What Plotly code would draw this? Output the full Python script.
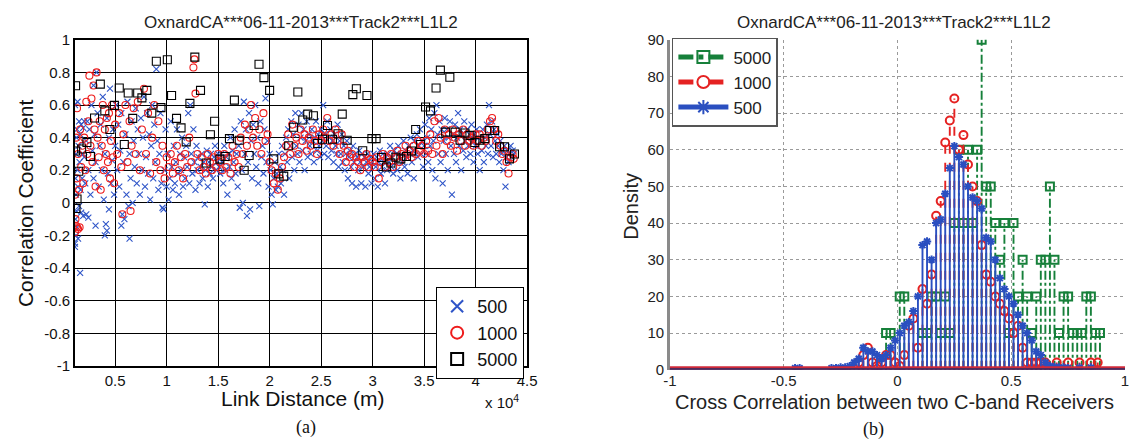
import plotly.graph_objects as go

# ================= Panel (a): scatter =================
# (link distance in units of 1e4 m, correlation coefficient)
pts_500 = [
    (0.11,-0.27),(0.11,-0.25),(0.11,0.6),(0.115,-0.1),(0.115,0.15),(0.12,0.3),(0.12,-0.2),(0.12,0.05),
    (0.125,0.4),(0.125,-0.05),(0.13,0.45),(0.13,-0.15),(0.135,0.2),(0.135,0.62),(0.14,0.1),(0.14,-0.22),
    (0.145,0.35),(0.15,0.5),(0.15,-0.02),(0.155,0.25),(0.16,-0.43),(0.16,0.42),(0.165,0.08),(0.17,0.48),
    (0.17,-0.06),(0.18,0.3),(0.18,0.15),(0.19,0.46),(0.19,-0.08),(0.2,0.28),(0.2,0.5),
    (0.21,0.12),(0.22,0.38),(0.22,-0.07),(0.23,0.5),(0.24,0.2),(0.24,-0.09),(0.25,0.45),(0.26,0.05),
    (0.27,0.6),(0.28,0.32),(0.29,0.72),(0.29,0.15),(0.3,0.42),(0.31,0.25),(0.31,-0.14),(0.32,0.8),
    (0.33,0.55),(0.34,0.1),(0.35,0.35),(0.36,0.48),(0.37,0.2),(0.38,0.65),(0.39,0.02),(0.4,0.3),
    (0.4,-0.2),(0.41,-0.13),(0.42,0.52),(0.42,-0.17),(0.43,0.18),(0.44,-0.04),(0.44,0.4),(0.45,0.7),
    (0.46,0.12),(0.47,0.26),(0.48,0.45),(0.49,0.05),(0.5,0.35),
    (0.51,0.6),(0.52,0.2),(0.53,0.48),(0.54,0.1),(0.55,0.32),(0.56,-0.14),(0.56,0.55),(0.57,-0.07),
    (0.58,0.25),(0.59,-0.1),(0.6,0.42),(0.61,0.05),(0.62,0.62),(0.63,-0.02),(0.64,-0.22),(0.64,0.3),
    (0.65,0.15),(0.66,0.5),(0.67,0.0),(0.68,0.38),(0.69,0.22),(0.7,0.58),(0.71,0.12),(0.72,0.45),
    (0.73,0.3),(0.74,0.05),(0.75,0.52),(0.76,0.2),(0.77,0.4),(0.78,0.65),(0.79,0.1),(0.8,0.28),
    (0.81,0.55),(0.82,0.18),(0.83,0.42),(0.84,0.02),(0.85,0.35),(0.86,0.6),(0.87,0.15),(0.88,0.48),
    (0.89,0.25),(0.9,0.82),(0.91,0.38),(0.92,0.08),(0.93,0.3),(0.94,0.55),(0.95,0.12),(0.96,-0.03),
    (0.97,-0.04),(0.98,0.2),(0.99,0.45),
    (1.0,0.1),(1.01,0.3),(1.02,0.02),(1.03,0.15),(1.04,0.5),(1.05,0.22),(1.06,0.08),(1.07,0.35),
    (1.08,0.12),(1.09,0.25),(1.1,0.45),(1.11,0.18),(1.12,0.05),(1.13,0.3),(1.14,0.2),(1.15,0.4),
    (1.16,0.1),(1.17,0.28),(1.18,0.15),(1.19,0.35),(1.2,0.22),(1.21,0.55),(1.22,0.12),(1.23,0.6),
    (1.24,0.3),(1.25,0.18),(1.26,0.45),(1.27,0.25),(1.28,0.08),(1.29,0.35),(1.3,0.2),(1.31,0.28),
    (1.32,0.12),(1.33,0.22),(1.34,0.3),(1.35,0.15),(1.36,0.25),(1.37,-0.01),(1.38,0.2),(1.39,0.32),
    (1.4,0.1),(1.41,0.25),(1.42,0.18),(1.43,0.3),(1.44,0.22),(1.45,0.15),(1.46,0.28),(1.47,0.35),
    (1.48,0.2),(1.49,0.25),(1.5,0.3),
    (1.51,0.22),(1.52,0.18),(1.53,0.3),(1.54,0.25),(1.55,0.12),(1.56,0.35),(1.57,0.2),(1.58,0.28),
    (1.59,0.05),(1.6,0.3),(1.61,0.22),(1.62,0.4),(1.63,0.15),(1.64,0.32),(1.65,0.25),(1.66,0.45),
    (1.67,0.18),(1.68,0.3),(1.69,0.1),(1.7,0.35),(1.71,-0.03),(1.72,0.5),(1.73,0.2),(1.74,0.0),
    (1.75,0.62),(1.76,0.3),(1.77,0.45),(1.78,-0.08),(1.79,0.25),(1.8,0.55),(1.81,-0.04),(1.82,0.38),
    (1.83,0.15),(1.84,0.48),(1.85,0.3),(1.86,0.6),(1.87,0.22),(1.88,0.4),(1.89,0.12),(1.9,-0.02),
    (1.91,0.5),(1.92,0.28),(1.93,0.35),(1.94,0.18),(1.95,0.45),(1.96,0.64),(1.97,0.25),(1.98,0.38),
    (1.99,0.1),(2.0,0.3),
    (2.01,0.2),(2.02,0.05),(2.03,-0.01),(2.04,0.15),(2.05,0.25),(2.06,0.08),(2.07,0.18),(2.08,0.1),
    (2.09,0.3),(2.1,0.22),(2.11,0.12),(2.12,0.35),(2.13,0.2),(2.14,0.05),(2.15,0.3),(2.16,0.4),
    (2.17,0.25),(2.18,0.45),(2.19,0.15),(2.2,0.35),(2.21,0.5),(2.22,0.28),(2.23,0.42),(2.24,0.2),
    (2.25,0.55),(2.26,0.35),(2.27,0.3),(2.28,0.48),(2.29,0.25),(2.3,0.4),(2.31,0.55),(2.32,0.32),
    (2.33,0.45),(2.34,0.2),(2.35,0.38),(2.36,0.5),(2.37,0.28),(2.38,0.42),(2.39,0.35),(2.4,0.3),
    (2.41,0.45),(2.42,0.38),(2.43,0.25),(2.44,0.4),(2.45,0.5),(2.46,0.32),(2.47,0.42),(2.48,0.35),
    (2.49,0.28),(2.5,0.45),
    (2.51,0.38),(2.52,0.6),(2.53,0.3),(2.54,0.42),(2.55,0.35),(2.56,0.5),(2.57,0.28),(2.58,0.4),
    (2.59,0.45),(2.6,0.32),(2.61,0.38),(2.62,0.25),(2.63,0.42),(2.64,0.35),(2.65,0.3),(2.66,0.48),
    (2.67,0.22),(2.68,0.38),(2.69,0.3),(2.7,0.42),(2.71,0.25),(2.72,0.35),(2.73,0.2),(2.74,0.3),
    (2.75,0.38),(2.76,0.15),(2.77,0.28),(2.78,0.32),(2.79,0.22),(2.8,0.12),(2.81,0.35),(2.82,0.25),
    (2.83,0.3),(2.84,0.1),(2.85,0.28),(2.86,0.2),(2.87,0.32),(2.88,0.25),(2.89,0.12),(2.9,0.3),
    (2.91,0.22),(2.92,0.28),(2.93,0.1),(2.94,0.25),(2.95,0.3),(2.96,0.18),(2.97,0.22),(2.98,0.28),
    (2.99,0.12),(3.0,0.25),
    (3.01,0.3),(3.02,0.15),(3.03,0.22),(3.04,0.28),(3.05,0.1),(3.06,0.25),(3.07,0.32),(3.08,0.18),
    (3.09,0.22),(3.1,0.3),(3.11,0.25),(3.12,0.12),(3.13,0.28),(3.14,0.2),(3.15,0.3),(3.16,0.25),
    (3.17,0.35),(3.18,0.22),(3.19,0.28),(3.2,0.18),(3.21,0.32),(3.22,0.25),(3.23,0.3),(3.24,0.2),
    (3.25,0.35),(3.26,0.28),(3.27,0.15),(3.28,0.3),(3.29,0.25),(3.3,0.38),(3.31,0.22),(3.32,0.32),
    (3.33,0.28),(3.34,0.18),(3.35,0.35),(3.36,0.3),(3.37,0.4),(3.38,0.25),(3.39,0.32),(3.4,0.15),
    (3.41,0.38),(3.42,0.3),(3.43,0.42),(3.44,0.28),(3.45,0.35),(3.46,0.45),(3.47,0.3),(3.48,0.38),
    (3.49,0.22),(3.5,0.35),
    (3.51,0.48),(3.52,0.3),(3.53,0.4),(3.54,0.25),(3.55,0.52),(3.56,0.35),(3.57,0.45),(3.58,0.2),
    (3.59,0.38),(3.6,0.55),(3.61,0.15),(3.62,0.6),(3.63,0.42),(3.64,0.3),(3.65,0.5),(3.66,0.25),
    (3.67,0.45),(3.68,0.12),(3.69,0.38),(3.7,0.52),(3.71,0.3),(3.72,0.45),(3.73,0.2),(3.74,0.4),
    (3.75,0.5),(3.76,0.35),(3.77,0.05),(3.78,0.42),(3.79,0.3),(3.8,0.48),(3.81,0.25),(3.82,0.4),
    (3.83,0.55),(3.84,0.35),(3.85,0.45),(3.86,0.2),(3.87,0.42),(3.88,0.32),(3.89,0.5),(3.9,0.38),
    (3.91,0.28),(3.92,0.45),(3.93,0.35),(3.94,0.42),(3.95,0.3),(3.96,0.48),(3.97,0.38),(3.98,0.25),
    (3.99,0.42),(4.0,0.35),
    (4.01,0.45),(4.02,0.3),(4.03,0.4),(4.04,0.2),(4.05,0.38),(4.06,0.32),(4.07,0.45),(4.08,0.25),
    (4.09,0.4),(4.1,0.35),(4.11,0.48),(4.12,0.3),(4.13,0.6),(4.14,0.42),(4.15,0.35),(4.16,0.5),
    (4.17,0.28),(4.18,0.45),(4.19,0.38),(4.2,0.3),(4.21,0.42),(4.22,0.35),(4.23,0.25),(4.24,0.38),
    (4.25,0.3),(4.26,0.32),(4.27,0.2),(4.28,0.35),(4.29,0.1),(4.3,0.28),(4.31,0.32),(4.32,0.25),
    (4.33,0.3),(4.34,0.35),(4.35,0.28),(4.36,0.32),(4.37,0.3),
]

pts_1000 = [
    (0.11,-0.18),(0.11,0.05),(0.115,-0.1),(0.12,0.4),(0.12,-0.14),(0.125,0.15),(0.13,0.58),(0.13,-0.15),
    (0.14,0.3),(0.14,-0.16),(0.15,0.08),(0.155,-0.15),(0.16,0.45),(0.17,0.22),(0.18,0.35),(0.19,0.12),
    (0.2,0.4),(0.21,0.2),(0.22,0.62),(0.23,0.3),(0.24,0.5),(0.25,0.78),(0.26,0.35),(0.27,0.64),
    (0.28,0.25),(0.29,0.72),(0.3,0.45),(0.31,0.1),(0.32,0.8),(0.33,0.4),(0.34,0.28),(0.35,0.5),
    (0.36,0.08),(0.37,0.35),(0.38,0.6),(0.39,0.2),(0.4,0.45),(0.41,0.3),(0.42,0.52),(0.43,0.25),
    (0.44,0.55),(0.45,0.15),(0.46,0.38),(0.47,0.6),(0.48,0.28),(0.49,0.12),(0.5,0.48),
    (0.52,0.3),(0.54,0.55),(0.56,0.22),(0.57,-0.07),(0.58,0.42),(0.6,0.6),(0.62,0.25),(0.64,0.5),
    (0.65,-0.05),(0.66,0.35),(0.68,0.58),(0.7,0.3),(0.72,0.62),(0.74,0.2),(0.76,0.45),(0.78,0.7),
    (0.8,0.3),(0.82,0.55),(0.84,0.18),(0.86,0.4),(0.88,0.6),(0.9,0.25),(0.92,0.5),(0.94,0.2),
    (0.96,0.35),(0.98,0.15),(1.0,0.28),
    (1.02,0.22),(1.04,0.3),(1.06,0.18),(1.08,0.25),(1.1,0.35),(1.12,0.2),(1.14,0.28),(1.16,0.15),
    (1.18,0.3),(1.2,0.22),(1.22,0.4),(1.24,0.25),(1.26,0.83),(1.27,0.88),(1.28,0.67),(1.3,0.3),
    (1.32,0.2),(1.34,0.28),(1.36,0.22),(1.38,0.18),(1.4,0.3),(1.42,0.25),(1.44,0.2),(1.46,0.28),
    (1.48,0.22),(1.5,0.3),
    (1.52,0.25),(1.54,0.2),(1.56,0.3),(1.58,0.22),(1.6,0.28),(1.62,0.18),(1.64,0.35),(1.66,0.25),
    (1.68,0.3),(1.7,0.22),(1.72,0.4),(1.74,0.3),(1.76,0.48),(1.78,0.35),(1.8,0.45),(1.82,0.6),
    (1.84,0.4),(1.86,0.52),(1.88,0.35),(1.9,0.45),(1.92,0.3),(1.94,0.55),(1.96,0.38),(1.98,0.42),
    (2.0,0.25),
    (2.02,0.2),(2.04,0.12),(2.06,0.18),(2.08,0.08),(2.1,0.15),(2.12,0.22),(2.14,0.28),(2.16,0.35),
    (2.18,0.42),(2.2,0.3),(2.22,0.48),(2.24,0.35),(2.26,0.4),(2.28,0.3),(2.3,0.45),(2.32,0.38),
    (2.34,0.42),(2.36,0.32),(2.38,0.4),(2.4,0.35),(2.42,0.45),(2.44,0.38),(2.46,0.3),(2.48,0.42),
    (2.5,0.38),
    (2.52,0.45),(2.54,0.4),(2.56,0.52),(2.58,0.38),(2.6,0.42),(2.62,0.35),(2.64,0.45),(2.66,0.38),
    (2.68,0.3),(2.7,0.42),(2.72,0.35),(2.74,0.25),(2.76,0.32),(2.78,0.28),(2.8,0.3),(2.82,0.22),
    (2.84,0.28),(2.86,0.25),(2.88,0.2),(2.9,0.28),(2.92,0.25),(2.94,0.3),(2.96,0.22),(2.98,0.27),
    (3.0,0.25),
    (3.02,0.22),(3.04,0.28),(3.06,0.15),(3.08,0.25),(3.1,0.3),(3.12,0.22),(3.14,0.28),(3.16,0.25),
    (3.18,0.3),(3.2,0.22),(3.22,0.28),(3.24,0.32),(3.26,0.25),(3.28,0.3),(3.3,0.28),(3.32,0.35),
    (3.34,0.3),(3.36,0.32),(3.38,0.28),(3.4,0.35),(3.42,0.3),(3.44,0.38),(3.46,0.32),(3.48,0.35),
    (3.5,0.3),
    (3.52,0.38),(3.54,0.32),(3.56,0.42),(3.58,0.3),(3.6,0.5),(3.62,0.35),(3.64,0.52),(3.66,0.4),
    (3.68,0.3),(3.7,0.45),(3.72,0.38),(3.74,0.42),(3.76,0.35),(3.78,0.45),(3.8,0.4),(3.82,0.32),
    (3.84,0.42),(3.86,0.38),(3.88,0.45),(3.9,0.35),(3.92,0.42),(3.94,0.38),(3.96,0.4),(3.98,0.35),
    (4.0,0.42),
    (4.02,0.38),(4.04,0.42),(4.06,0.35),(4.08,0.4),(4.1,0.38),(4.12,0.45),(4.14,0.5),(4.16,0.52),
    (4.18,0.45),(4.2,0.38),(4.22,0.42),(4.24,0.35),(4.26,0.3),(4.28,0.32),(4.3,0.25),(4.32,0.18),
    (4.34,0.28),(4.36,0.3),(4.37,0.27),
]

pts_5000 = [
    (0.116,0.718),(0.116,0.318),(0.147,0.194),(0.13,0.024),(0.12,-0.035),(0.175,0.33),(0.226,0.37),
    (0.26,0.284),(0.30,0.52),(0.356,0.728),(0.40,0.564),(0.449,0.45),(0.493,0.598),(0.54,0.704),
    (0.589,0.358),(0.627,0.674),(0.671,0.518),(0.719,0.674),(0.76,0.644),(0.808,0.69),(0.856,0.55),
    (0.90,0.868),(0.945,0.584),(1.007,0.878),(1.048,0.658),(1.096,0.518),(1.14,0.46),(1.19,0.374),
    (1.226,0.61),(1.274,0.894),(1.329,0.69),(1.384,0.244),(1.425,0.418),(1.466,0.50),(1.517,0.268),
    (1.568,0.284),(1.61,0.394),(1.658,0.63),(1.705,0.384),(1.753,0.20),(1.801,0.29),(1.849,0.474),
    (1.897,0.85),(1.945,0.768),(2.0,0.69),(2.04,0.27),(2.089,0.178),(2.137,0.164),(2.185,0.35),
    (2.233,0.464),(2.274,0.68),(2.322,0.508),(2.37,0.544),(2.425,0.534),(2.466,0.364),(2.514,0.39),
    (2.562,0.474),(2.61,0.39),(2.664,0.424),(2.705,0.544),(2.753,0.384),(2.808,0.664),(2.842,0.70),
    (2.904,0.32),(2.945,0.658),(2.993,0.394),(3.034,0.394),(3.086,0.278),(3.134,0.22),(3.178,0.244),
    (3.226,0.28),(3.274,0.27),(3.329,0.284),(3.377,0.318),(3.418,0.45),(3.466,0.358),(3.514,0.588),
    (3.562,0.564),(3.616,0.704),(3.658,0.814),(3.709,0.434),(3.75,0.77),(3.801,0.434),(3.849,0.384),
    (3.897,0.428),(3.945,0.414),(3.993,0.37),(4.041,0.384),(4.089,0.394),(4.137,0.444),(4.185,0.444),
    (4.233,0.344),(4.281,0.344),(4.329,0.27),(4.377,0.30),
]

ticks_a_x = [0.5, 1, 1.5, 2, 2.5, 3, 3.5, 4, 4.5]
ticks_a_y = [-1, -0.8, -0.6, -0.4, -0.2, 0, 0.2, 0.4, 0.6, 0.8, 1]

# ================= Panel (b): stem density =================
# (bin centre, density)
hist_500 = [
    (-0.45,0.4),(-0.43,0.4),(-0.29,0.4),(-0.27,0.4),(-0.25,0.6),(-0.23,0.6),(-0.21,1),(-0.19,2),
    (-0.17,3),(-0.15,6),(-0.13,5),(-0.11,5),(-0.09,4),(-0.07,3),(-0.05,4),(-0.03,6),(-0.01,8),
    (0.01,10),(0.03,12),(0.05,13),(0.07,16),(0.09,20),(0.11,34),(0.13,35),(0.15,30),(0.17,40),
    (0.19,41),(0.21,48),(0.23,55),(0.25,61),(0.27,58),(0.29,56),(0.31,50),(0.33,47),(0.35,46),
    (0.37,44),(0.39,36),(0.41,35),(0.43,30),(0.45,25),(0.47,22),(0.49,20),(0.51,18),(0.53,15),
    (0.55,12),(0.57,10),(0.59,8),(0.61,5),(0.63,4),(0.65,2),(0.67,1),(0.69,0.8),(0.71,0.6),
    (0.73,0.6),(0.75,0.4),(0.80,0.6),(0.85,0.6),
]
hist_1000 = [
    (-0.17,2),(-0.15,4),(-0.13,6),(-0.11,2),(-0.09,1),(-0.07,2),(-0.05,4),(-0.03,4),(-0.01,2),
    (0.01,1),(0.03,4),(0.05,12),(0.07,14),(0.09,6),(0.11,22),(0.13,18),(0.15,26),(0.17,42),
    (0.19,46),(0.21,62),(0.23,68),(0.25,74),(0.27,60),(0.29,64),(0.31,56),(0.33,50),(0.35,46),
    (0.37,34),(0.39,26),(0.41,24),(0.43,20),(0.45,18),(0.47,16),(0.49,14),(0.51,10),(0.53,12),
    (0.55,6),(0.57,2),(0.59,2),(0.61,2),(0.63,2),(0.65,2),(0.70,2),(0.75,2),(0.80,2),(0.85,2),
    (0.88,2),
]
hist_5000 = [
    (-0.05,10),(-0.03,10),(0.01,20),(0.03,20),(0.11,10),(0.13,10),(0.15,20),(0.17,20),(0.19,10),
    (0.21,20),(0.23,10),(0.25,40),(0.27,60),(0.29,40),(0.31,60),(0.33,40),(0.35,60),(0.37,90),
    (0.39,50),(0.41,50),(0.43,40),(0.45,30),(0.47,40),(0.49,10),(0.51,40),(0.53,20),(0.55,30),
    (0.57,20),(0.59,10),(0.61,20),(0.63,30),(0.65,30),(0.67,50),(0.69,30),(0.71,10),(0.73,20),
    (0.75,20),(0.77,10),(0.79,10),(0.81,10),(0.83,20),(0.85,20),(0.87,10),(0.89,10),
]

ticks_b_x = [-1, -0.5, 0, 0.5, 1]
ticks_b_y = [0, 10, 20, 30, 40, 50, 60, 70, 80, 90]

TITLE = "OxnardCA***06-11-2013***Track2***L1L2"

SANS = "Arial, Liberation Sans, sans-serif"
SERIF = "Times New Roman, Liberation Serif, serif"

BLUE_A = "#2f55c8"
RED_A = "#ee1c1c"
BLUE_B = "#2a4fc0"
RED_B = "#e52222"
GREEN_B = "#16803a"


def unzip(pairs):
    return [p[0] for p in pairs], [p[1] for p in pairs]


def stems(pairs):
    xs, ys = [], []
    for x, d in pairs:
        xs += [x, x, None]
        ys += [0, d, None]
    return xs, ys


fig = go.Figure()

# ---- panel (a) ----
for pts, name, color, sym, size in [
    (pts_500, "500", BLUE_A, "x-thin", 6),
    (pts_1000, "1000", RED_A, "circle-open", 7),
    (pts_5000, "5000", "#000000", "square-open", 8),
]:
    xs, ys = unzip(pts)
    fig.add_trace(go.Scatter(
        x=xs, y=ys, mode="markers", name=name, xaxis="x", yaxis="y",
        marker=dict(symbol=sym, size=size, color=color,
                    line=dict(color=color, width=1.1)),
        legend="legend",
    ))

# ---- panel (b) ----
series_b = [
    (hist_5000, "5000", GREEN_B, "dashdot", "square-open", 8),
    (hist_1000, "1000", RED_B, "dash", "circle-open", 8),
    (hist_500, "500", BLUE_B, "solid", "asterisk-open", 7),
]
for pairs, name, color, dash, sym, size in series_b:
    sx, sy = stems(pairs)
    fig.add_trace(go.Scatter(
        x=sx, y=sy, mode="lines", xaxis="x2", yaxis="y2",
        line=dict(color=color, width=1.9, dash=dash),
        showlegend=False, hoverinfo="skip",
    ))
    mx, my = unzip(pairs)
    fig.add_trace(go.Scatter(
        x=mx, y=my, mode="markers", xaxis="x2", yaxis="y2",
        marker=dict(symbol=sym, size=size, color=color,
                    line=dict(color=color, width=2)),
        showlegend=False,
    ))

# legend entries for panel (b)
for pairs, name, color, dash, sym, size in series_b:
    fig.add_trace(go.Scatter(
        x=[None], y=[None], mode="lines+markers", name=name,
        xaxis="x2", yaxis="y2", legend="legend2",
        line=dict(color=color, width=2, dash=dash),
        marker=dict(symbol=sym, size=14, color=color, line=dict(color=color, width=2)),
    ))

W, H = 1135, 448


def px_x(v):
    return v / W


def px_y(v):
    return 1 - v / H


def label(text, x, y, size, family=SANS, color="#111", angle=0):
    return dict(text=text, x=px_x(x), y=px_y(y), xref="paper", yref="paper",
                xanchor="center", yanchor="middle", showarrow=False, textangle=angle,
                font=dict(size=size, family=family, color=color))


fig.update_layout(
    width=W, height=H,
    margin=dict(l=0, r=0, t=0, b=0),
    paper_bgcolor="white", plot_bgcolor="white",
    font=dict(family=SANS, color="#111111"),
    xaxis=dict(
        domain=[px_x(69), px_x(528)], range=[0.11, 4.5],
        tickvals=ticks_a_x, ticktext=[f"{v:g}" for v in ticks_a_x],
        showgrid=True, gridcolor="#000000", gridwidth=1,
        showline=True, linecolor="#000000", linewidth=1.5, mirror=True,
        zeroline=False, ticks="", tickfont=dict(size=15, color="#111"),
        anchor="y",
    ),
    yaxis=dict(
        domain=[px_y(371), px_y(32)], range=[-1, 1],
        tickvals=ticks_a_y, ticktext=[f"{v:g}" for v in ticks_a_y],
        showgrid=True, gridcolor="#000000", gridwidth=1,
        showline=True, linecolor="#000000", linewidth=1.5, mirror=True,
        zeroline=False, ticks="", tickfont=dict(size=15, color="#111"),
        anchor="x",
    ),
    xaxis2=dict(
        domain=[px_x(673), 1.0], range=[-1, 1],
        tickvals=ticks_b_x, ticktext=[f"{v:g}" for v in ticks_b_x],
        showgrid=True, gridcolor="#9a9a9a", gridwidth=1.2, griddash="dot",
        showline=False, zeroline=False, ticks="",
        tickfont=dict(size=15, color="#222"), anchor="y2",
    ),
    yaxis2=dict(
        domain=[px_y(375), px_y(32)], range=[0, 90],
        tickvals=ticks_b_y, ticktext=[f"{v:g}" for v in ticks_b_y],
        showgrid=True, gridcolor="#9a9a9a", gridwidth=1.2, griddash="dot",
        showline=True, linecolor="#8a8a8a", linewidth=2.5, zeroline=False, ticks="",
        tickfont=dict(size=15, color="#222"), anchor="x2",
    ),
    legend=dict(
        x=px_x(525), xanchor="right", y=px_y(289), yanchor="top",
        bgcolor="white", bordercolor="#000000", borderwidth=1,
        font=dict(size=18, family=SANS, color="#111"),
        itemsizing="constant", tracegroupgap=0,
    ),
    legend2=dict(
        x=px_x(675), xanchor="left", y=px_y(30), yanchor="top",
        bgcolor="white", bordercolor="#555555", borderwidth=1.5,
        font=dict(size=17, family=SANS, color="#222"),
        itemsizing="constant", itemwidth=50, tracegroupgap=0,
    ),
    shapes=[
        dict(type="line", xref="x2 domain", yref="y2", x0=0, x1=1, y0=0, y1=0,
             line=dict(color="#d02a3a", width=7), layer="above"),
        dict(type="line", xref="x2 domain", yref="y2", x0=0, x1=1, y0=0, y1=0,
             line=dict(color="#2a2a66", width=3), layer="above"),
    ],
    annotations=[
        label(TITLE, 298, 14, 17, color="#222"),
        label(TITLE, 900, 14, 17, color="#222"),
        label("Correlation Coefficient", 19, 202, 21, angle=-90),
        label("Link Distance (m)", 300, 405, 21),
        label("x 10<sup>4</sup>", 503, 408, 15),
        label("(a)", 304, 435, 18, family=SERIF),
        label("Density", 634, 205, 20, color="#222", angle=-90),
        label("Cross Correlation between two C-band Receivers", 901, 409, 20, color="#222"),
        label("(b)", 880, 437, 18, family=SERIF),
    ],
)

fig.write_html(
    "out.html",
    config={"displayModeBar": False},
    post_script="document.body.style.margin='0';document.body.style.overflow='hidden';",
)
